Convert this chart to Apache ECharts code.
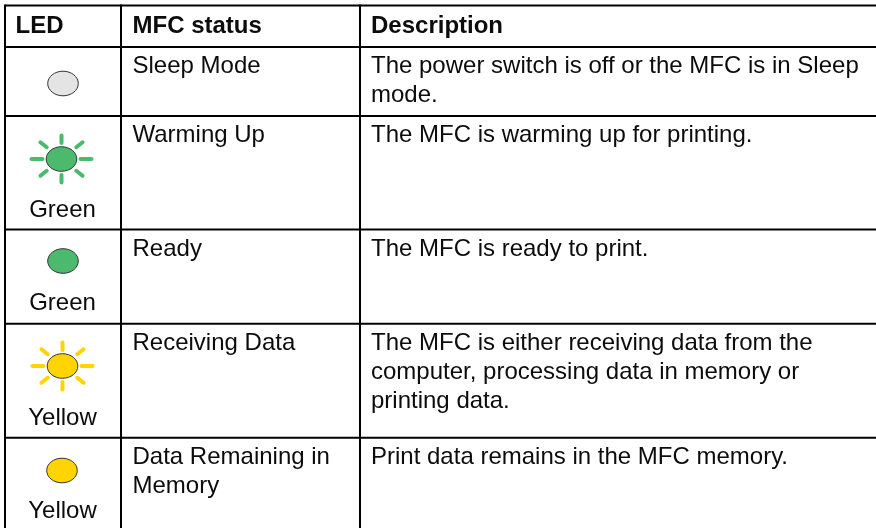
<!DOCTYPE html>
<html>
<head>
<meta charset="utf-8">
<title>LED status</title>
<script src="https://cdn.jsdelivr.net/npm/echarts@6/dist/echarts.min.js"></script>
<style>
    html, body { margin: 0; padding: 0; background: #fff; }
    #main { width: 876px; height: 528px; }
</style>
</head>
<body>
<div id="main"></div>
<script>
var headers = ['LED', 'MFC status', 'Description'];
var statusNames = ['Sleep Mode', 'Warming Up', 'Ready', 'Receiving Data', 'Data Remaining in\nMemory'];
var descriptions = [
    'The power switch is off or the MFC is in Sleep\nmode.',
    'The MFC is warming up for printing.',
    'The MFC is ready to print.',
    'The MFC is either receiving data from the\ncomputer, processing data in memory or\nprinting data.',
    'Print data remains in the MFC memory.'
];
var ledNames = ['', 'Green', 'Green', 'Yellow', 'Yellow'];
var ledColors = ['#e4e4e4', '#4cba6c', '#4cba6c', '#ffd400', '#ffd400'];
var ledBlink = [false, true, false, true, false];

// 表格线的位置 (坐标轴单位)
var colEdges = [5, 121, 360];
var rowEdges = [5.5, 47, 116, 229.5, 323.7, 437.7, 528];
var ledX = [63, 61.5, 63, 62.5, 62];
var ledY = [83.5, 159, 261, 366, 470.5];
var ledNameY = [0, 209, 302, 417, 510];

var font = '"Liberation Sans", Arial, Helvetica, sans-serif';
var textColor = '#0c0c0c';
var fontSize = 24;

var myChart = echarts.init(document.getElementById('main'));

function text(api, x, y, str, align, weight) {
    var p = api.coord([x, y]);
    return {
        type: 'text',
        x: p[0],
        y: p[1],
        style: {
            text: str,
            fill: textColor,
            font: weight + ' ' + fontSize + 'px ' + font,
            lineHeight: 29.2,
            align: align,
            verticalAlign: 'top'
        }
    };
}

var option = {
    animation: false,
    grid: { left: 0, right: 0, top: 0, bottom: 0 },
    xAxis: { type: 'value', min: 0, max: 876, show: false },
    yAxis: { type: 'value', min: 0, max: 528, inverse: true, show: false },
    series: [
        {
            // 表格线
            type: 'custom',
            coordinateSystem: 'cartesian2d',
            silent: true,
            clip: false,
            data: [0],
            renderItem: function (params, api) {
                var children = [];
                var bottom = rowEdges[rowEdges.length - 1];
                colEdges.forEach(function (x) {
                    var a = api.coord([x, rowEdges[0]]);
                    var b = api.coord([x, bottom]);
                    children.push({ type: 'line', shape: { x1: a[0], y1: a[1] - 1, x2: b[0], y2: b[1] }, style: { stroke: '#000', lineWidth: 2 } });
                });
                rowEdges.slice(0, -1).forEach(function (y) {
                    var a = api.coord([colEdges[0], y]);
                    var b = api.coord([876, y]);
                    children.push({ type: 'line', shape: { x1: a[0], y1: a[1], x2: b[0], y2: b[1] }, style: { stroke: '#000', lineWidth: 2 } });
                });
                return { type: 'group', children: children };
            }
        },
        {
            // LED 图标
            type: 'custom',
            coordinateSystem: 'cartesian2d',
            silent: true,
            data: ledColors.map(function (c, i) { return [ledX[i], ledY[i], i]; }),
            renderItem: function (params, api) {
                var i = api.value(2);
                var c = api.coord([api.value(0), api.value(1)]);
                var children = [];
                if (ledBlink[i]) {
                    // 八条光线
                    [[1, 0], [-1, 0], [0, 1], [0, -1], [0.78, 0.62], [-0.78, 0.62], [0.78, -0.62], [-0.78, -0.62]].forEach(function (d) {
                        var horiz = d[1] === 0, vert = d[0] === 0;
                        var r1 = horiz ? 19 : (vert ? 16 : 19);
                        var r2 = horiz ? 30 : (vert ? 23.5 : 27);
                        children.push({
                            type: 'line',
                            shape: { x1: c[0] + d[0] * r1, y1: c[1] + d[1] * r1, x2: c[0] + d[0] * r2, y2: c[1] + d[1] * r2 },
                            style: { stroke: ledColors[i], lineWidth: 4, lineCap: 'round' }
                        });
                    });
                }
                children.push({
                    type: 'ellipse',
                    shape: { cx: c[0], cy: c[1], rx: 15.3, ry: 12.3 },
                    style: { fill: ledColors[i], stroke: '#333', lineWidth: 1 }
                });
                return { type: 'group', children: children };
            }
        },
        {
            // 文字
            type: 'custom',
            coordinateSystem: 'cartesian2d',
            silent: true,
            data: [0],
            renderItem: function (params, api) {
                var children = [
                    text(api, 15.5, rowEdges[0] + 6.5, headers[0], 'left', 'bold'),
                    text(api, 132.5, rowEdges[0] + 6.5, headers[1], 'left', 'bold'),
                    text(api, 371, rowEdges[0] + 6.5, headers[2], 'left', 'bold')
                ];
                statusNames.forEach(function (s, i) {
                    children.push(text(api, 132.5, rowEdges[i + 1] + 5, s, 'left', 'normal'));
                    children.push(text(api, 371, rowEdges[i + 1] + 5, descriptions[i], 'left', 'normal'));
                    if (ledNames[i]) {
                        children.push(text(api, 62.5, ledNameY[i] - 13, ledNames[i], 'center', 'normal'));
                    }
                });
                return { type: 'group', children: children };
            }
        }
    ]
};

myChart.setOption(option);
</script>
</body>
</html>
